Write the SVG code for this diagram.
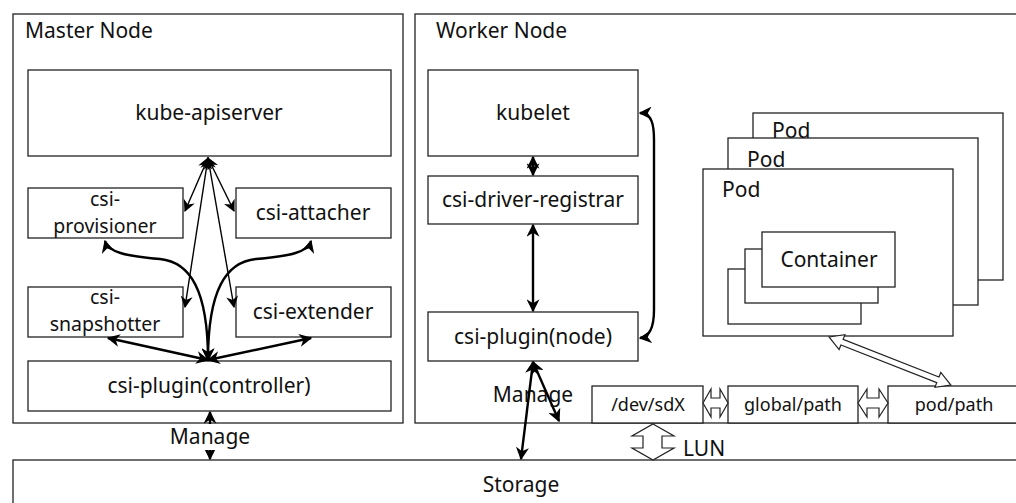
<svg xmlns="http://www.w3.org/2000/svg" width="1016" height="503" viewBox="0 0 1016 503">
<style>
.box{fill:#fff;stroke:#222;stroke-width:1.3}
.t{font-family:"Noto Sans","Open Sans",sans-serif;font-size:21px;fill:#111;text-anchor:middle}
.t2{font-family:"Noto Sans","Open Sans",sans-serif;font-size:19.5px;fill:#111;text-anchor:middle}
.tl{font-family:"Noto Sans","Open Sans",sans-serif;font-size:21px;fill:#111}
.ts{font-family:"Noto Sans","Open Sans",sans-serif;font-size:18px;fill:#111;text-anchor:middle}
.thin{fill:none;stroke:#000;stroke-width:1.4;marker-start:url(#a1);marker-end:url(#a1)}
.thick{fill:none;stroke:#000;stroke-width:2.4;marker-start:url(#a2);marker-end:url(#a2)}
.blk{fill:#fff;stroke:#222;stroke-width:1.2}
</style>
<defs>
<marker id="a1" markerUnits="userSpaceOnUse" markerWidth="12" markerHeight="12" viewBox="0 0 10 10" refX="9" refY="5" orient="auto-start-reverse"><path d="M0,0 L10,5 L0,10 L3,5 z" fill="#000"/></marker>
<marker id="a2" markerUnits="userSpaceOnUse" markerWidth="13" markerHeight="13" viewBox="0 0 10 10" refX="9" refY="5" orient="auto-start-reverse"><path d="M0,0 L10,5 L0,10 L3,5 z" fill="#000"/></marker>
</defs>
<rect width="1016" height="503" fill="#fff"/>

<g id="storage"><rect class="box" x="13" y="460" width="1020" height="60"/><text class="t" x="521" y="492">Storage</text></g>

<g id="master-node"><rect class="box" x="13" y="14" width="390" height="409"/><text class="tl" x="25" y="38">Master Node</text></g>
<g id="worker-node"><rect class="box" x="415" y="14" width="620" height="409"/><text class="tl" x="436" y="38">Worker Node</text></g>

<g id="kube-apiserver"><rect class="box" x="28" y="70" width="363" height="86"/><text class="t" x="209" y="120">kube-apiserver</text></g>
<g id="csi-provisioner"><rect class="box" x="28" y="188" width="155" height="50"/><text class="t2"><tspan x="105" y="206">csi-</tspan><tspan x="105" y="233">provisioner</tspan></text></g>
<g id="csi-attacher"><rect class="box" x="236" y="188" width="155" height="50"/><text class="t" x="313" y="220">csi-attacher</text></g>
<g id="csi-snapshotter"><rect class="box" x="28" y="287" width="155" height="50"/><text class="t2"><tspan x="105" y="304">csi-</tspan><tspan x="105" y="331">snapshotter</tspan></text></g>
<g id="csi-extender"><rect class="box" x="236" y="287" width="155" height="50"/><text class="t" x="313" y="319">csi-extender</text></g>
<g id="csi-plugin-controller"><rect class="box" x="28" y="361" width="363" height="50"/><text class="t" x="209" y="393">csi-plugin(controller)</text></g>

<g id="kubelet"><rect class="box" x="428" y="70" width="210" height="86"/><text class="t" x="533" y="120">kubelet</text></g>
<g id="csi-driver-registrar"><rect class="box" x="428" y="176" width="210" height="48"/><text class="t" x="533" y="207">csi-driver-registrar</text></g>
<g id="csi-plugin-node"><rect class="box" x="428" y="312" width="210" height="49"/><text class="t" x="533" y="344">csi-plugin(node)</text></g>

<g id="pods">
<rect class="box" x="753" y="113" width="250" height="167"/><text class="tl" x="772" y="138">Pod</text>
<rect class="box" x="728" y="138" width="250" height="167"/><text class="tl" x="747" y="167">Pod</text>
<rect class="box" x="703" y="169" width="250" height="167"/><text class="tl" x="722" y="197">Pod</text>
<rect class="box" x="728" y="269" width="133" height="55"/>
<rect class="box" x="745" y="249" width="133" height="54"/>
<rect class="box" x="762" y="232" width="133" height="55"/><text class="t" x="829" y="267">Container</text>
</g>

<g id="dev-sdx"><rect class="box" x="592" y="386" width="111" height="37"/><text class="ts" x="648" y="411">/dev/sdX</text></g>
<g id="global-path"><rect class="box" x="728" y="386" width="130" height="37"/><text class="ts" x="793" y="411">global/path</text></g>
<g id="pod-path"><rect class="box" x="888" y="386" width="140" height="37"/><text class="ts" x="954" y="411">pod/path</text></g>

<g id="connectors">
<line class="thin" x1="208" y1="158" x2="185" y2="211"/>
<line class="thin" x1="208" y1="158" x2="234" y2="211"/>
<line class="thin" x1="208" y1="158" x2="185" y2="307"/>
<line class="thin" x1="208" y1="158" x2="234" y2="307"/>
<path class="thick" d="M208,360 C208,290 190,262 160,259 C125,256 108,252 105,241"/>
<path class="thick" d="M208,360 C208,290 226,262 256,259 C291,256 308,252 311,241"/>
<line class="thick" x1="208" y1="360" x2="108" y2="338"/>
<line class="thick" x1="208" y1="360" x2="311" y2="338"/>
<line class="thick" x1="210" y1="412" x2="210" y2="459"/>
<rect x="168" y="424" width="84" height="26" fill="#fff"/>
<text class="t" x="210" y="444">Manage</text>

<line class="thick" x1="533" y1="157" x2="533" y2="175"/>
<line class="thick" x1="533" y1="225" x2="533" y2="311"/>
<path class="thick" d="M640,113 C652,113 654,125 654,140 L654,310 C654,328 649,337 640,338"/>
<text class="t" x="533" y="402">Manage</text>
<line class="thick" x1="533" y1="362" x2="521" y2="459"/>
<line class="thick" x1="533" y1="362" x2="559" y2="421"/>

<polygon class="blk" points="653,424 674,436 662,436 662,448 674,448 653,460 632,448 643,448 643,436 632,436"/>
<text class="tl" x="683" y="456">LUN</text>
<polygon class="blk" points="703,403 711,389 711,398 720,398 720,389 728,403 720,417 720,408 711,408 711,417"/>
<polygon class="blk" points="858,403 867,389 867,398 879,398 879,389 888,403 879,417 879,408 867,408 867,417"/>
<polygon class="blk" transform="translate(829,337) rotate(21.5)" points="0,0 14,-8 14,-3 117,-3 117,-8 131,0 117,8 117,3 14,3 14,8"/>
</g>
</svg>
